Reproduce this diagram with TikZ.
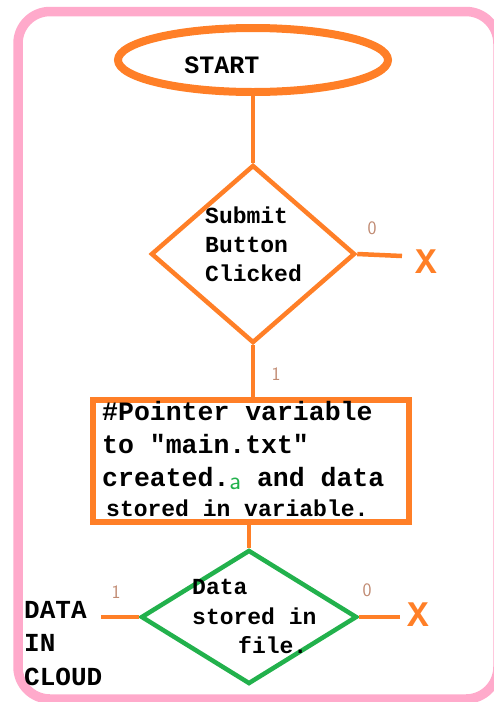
\documentclass[tikz,border=0pt]{standalone}
\usepackage{fontspec}
\setmonofont{Liberation Mono}
\usepackage{tikz}
\usetikzlibrary{shapes.geometric}

\definecolor{frame}{HTML}{FFAACB}
\definecolor{paintorange}{HTML}{FF7F27}
\definecolor{paintgreen}{HTML}{22B14C}
\definecolor{paintbrown}{HTML}{C08A72}

\tikzset{
  box text/.style={font=\ttfamily\bfseries, align=left, inner sep=0},
  bit/.style={text=paintbrown, font=\sffamily\fontsize{19}{19}\selectfont, inner sep=0},
  stop/.style={text=paintorange, font=\ttfamily\bfseries\fontsize{36}{36}\selectfont, inner sep=0},
  wire/.style={draw=paintorange, line width=4.5pt}
}

\begin{document}
\begin{tikzpicture}[x=1pt,y=-1pt]
        \useasboundingbox (0,0) rectangle (494,702);
        \draw[frame, line width=9.5pt, rounded corners=32pt] (18,11.5) rectangle (498,699);

        % shapes
        \node[ellipse, draw=paintorange, line width=8pt, minimum width=270pt, minimum height=64pt] (start) at (253,60) {};
        \node[box text, font=\ttfamily\bfseries\fontsize{25}{25}\selectfont] (starttext) at (222,65) {START};

        \node[diamond, draw=paintorange, line width=4.5pt, minimum width=204pt, minimum height=178pt, inner sep=0] (submit) at (253,254) {};
        \node[box text, anchor=north west, font=\ttfamily\bfseries\fontsize{23}{29}\selectfont] (submittext) at (205,207) {Submit\\Button\\Clicked};

        \node[rectangle, draw=paintorange, line width=6pt, minimum width=316pt, minimum height=122pt, inner sep=0] (pointer) at (251,461) {};
        \node[box text, anchor=north west, font=\ttfamily\bfseries\fontsize{26.5}{33}\selectfont] (pointertext) at (102,401)
          {\#Pointer variable\\to "main.txt"\\created.{\color{paintgreen}\sffamily\fontsize{26}{26}\selectfont\mdseries\raisebox{-3pt}{a}} and data};
        \node[box text, anchor=west, font=\ttfamily\bfseries\fontsize{23}{23}\selectfont] (pointertail) at (106,508) {stored in variable.};

        \node[diamond, draw=paintgreen, line width=4.5pt, minimum width=216pt, minimum height=134pt, inner sep=0, aspect=1.6] (stored) at (249,617) {};
        \node[box text, anchor=north west, font=\ttfamily\bfseries\fontsize{23}{29.5}\selectfont] (storedtext) at (192,579) {Data\\stored in\\\hspace*{2em}file.};

        \node[box text, anchor=north west, font=\ttfamily\bfseries\fontsize{26}{33.5}\selectfont] (cloud) at (24,601) {DATA\\IN\\CLOUD};

        % ends
        \node[stop] (xone) at (426,262) {X};
        \node[stop] (xtwo) at (418,615) {X};
        \coordinate (cloudend) at (101,617);
        \coordinate (oneend) at (402,256);
        \coordinate (twoend) at (400,617);

        % bits
        \node[bit] (submitno) at (372,228) {0};
        \node[bit] (submityes) at (276,374) {1};
        \node[bit] (storedyes) at (116,592) {1};
        \node[bit] (storedno) at (367,590) {0};

        % connectors
        \draw[wire] (start.south) -- (submit.north);
        \draw[wire] (submit.east) -- (oneend);
        \draw[wire] (submit.south) -- (pointer.north -| submit.south);
        \draw[wire] (pointer.south -| stored.north) -- (stored.north);
        \draw[wire] (stored.west) -- (cloudend);
        \draw[wire] (stored.east) -- (twoend);
      \end{tikzpicture}
\end{document}
